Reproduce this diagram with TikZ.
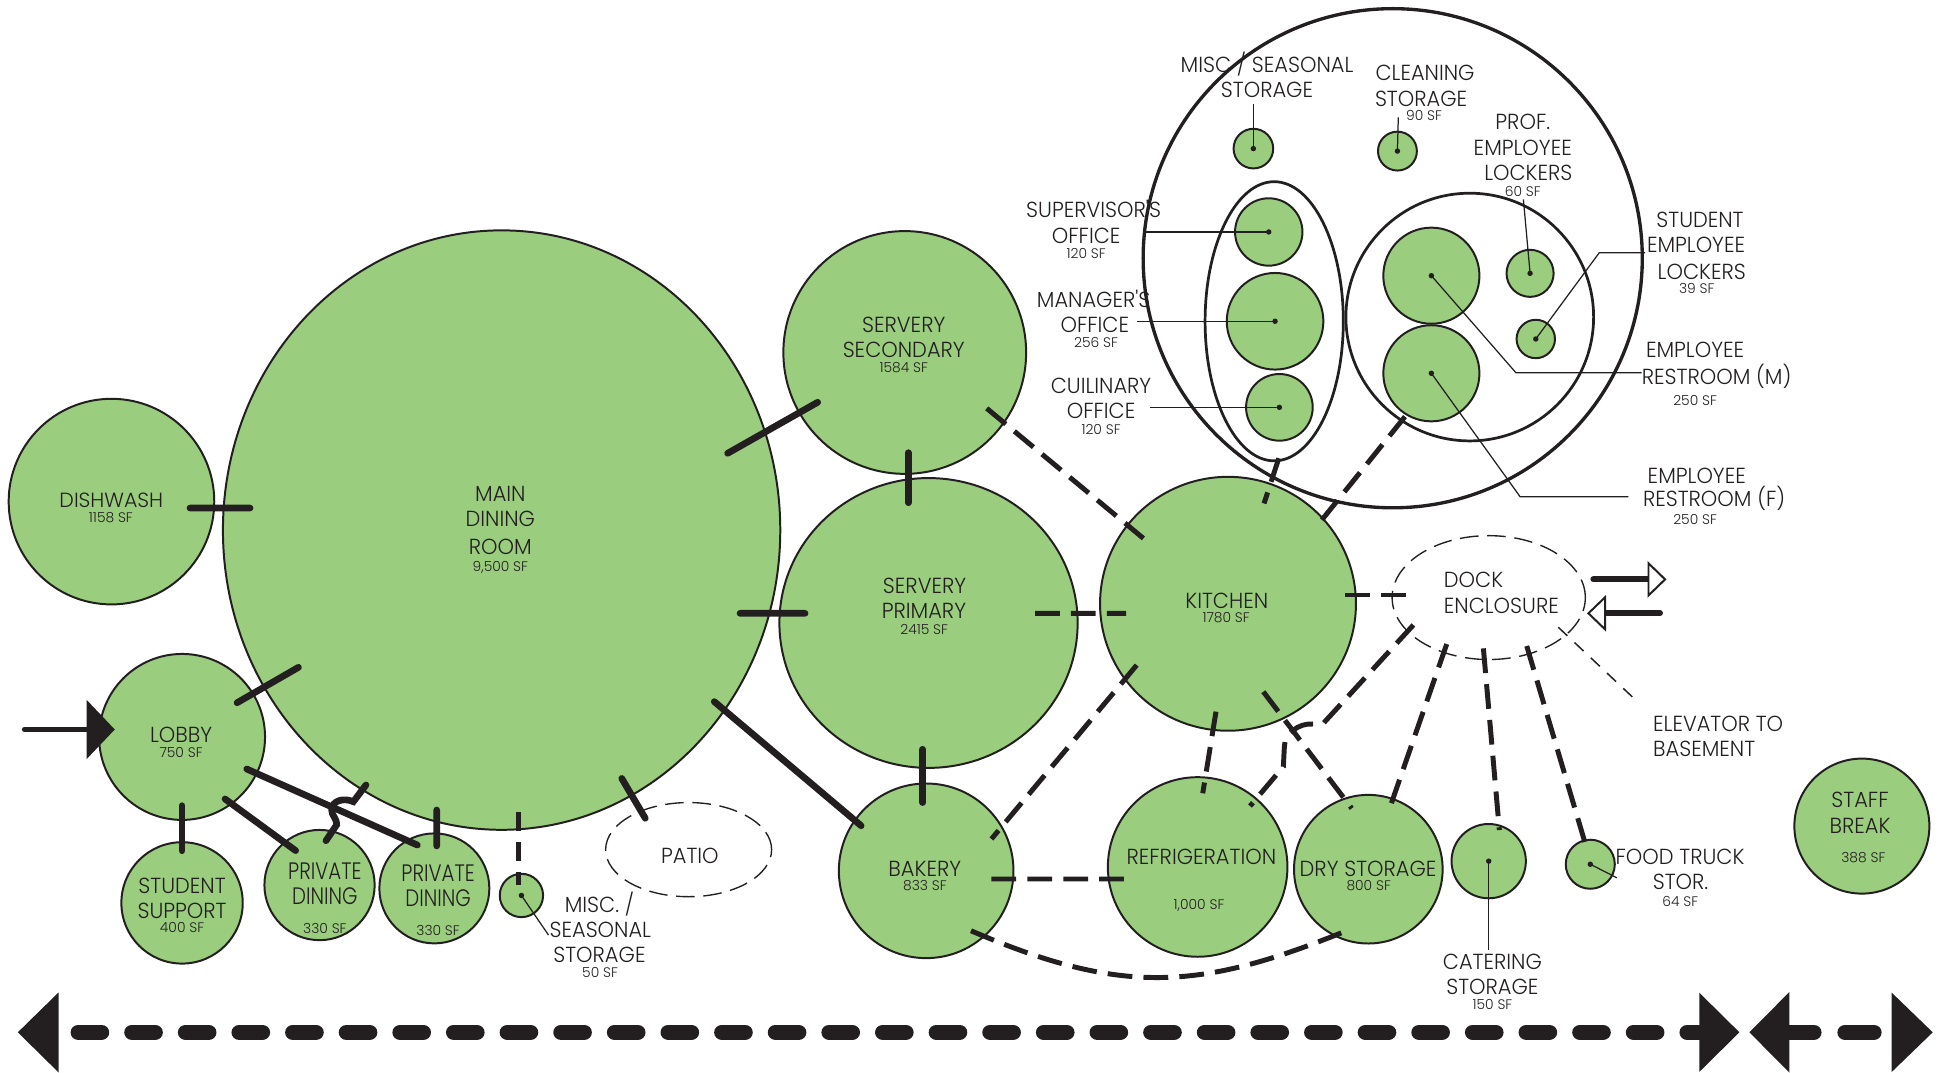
\documentclass[tikz,border=0pt]{standalone}
\usepackage{fontspec}
\usetikzlibrary{shapes.geometric,calc,arrows.meta}
\IfFontExistsTF{Poppins Light}{%
  \newfontfamily\lblfont{Poppins Light}[FakeStretch=0.96]
  \newfontfamily\numfont{Poppins Light}
  \newfontfamily\pdfont{Poppins Light}[FakeStretch=0.83]
}{%
  \newfontfamily\lblfont{Poppins}[FakeStretch=0.9]
  \newfontfamily\numfont{Poppins}
  \newfontfamily\pdfont{Poppins}[FakeStretch=0.78]
}
\definecolor{roomgreen}{RGB}{154,205,126}
\definecolor{ink}{RGB}{35,31,32}

\begin{document}
\begin{tikzpicture}[x=0.5pt,y=-0.5pt,
  room/.style 2 args={ellipse, draw=ink, line width=0.8pt, fill=roomgreen,
    inner sep=0pt, outer sep=0pt, minimum width=#1pt, minimum height=#2pt},
  zone/.style 2 args={ellipse, draw=ink, line width=1.1pt,
    inner sep=0pt, outer sep=0pt, minimum width=#1pt, minimum height=#2pt},
  openzone/.style 2 args={ellipse, draw=ink, line width=0.55pt, dash pattern=on 7.5pt off 3.5pt,
    inner sep=0pt, outer sep=0pt, minimum width=#1pt, minimum height=#2pt},
  adj/.style={draw=ink, line width=2.7pt, line cap=round},
  rel/.style={draw=ink, line width=2pt, dash pattern=on 10pt off 4.5pt},
  elev/.style={draw=ink, line width=0.6pt, dash pattern=on 5pt off 4pt},
  lead/.style={draw=ink, line width=0.5pt},
  entry/.style={draw=ink, line width=2.4pt, line cap=round,
    -{Triangle[length=11.35pt,width=23.3pt]}},
  thickln/.style={draw=ink, line width=2.4pt, line cap=round},
  opentip/.style={draw=ink, fill=white, line width=0.8pt, line join=miter},
  flow/.style={draw=ink, line width=6.25pt, line cap=round},
  rm/.style={anchor=base, inner sep=0pt, text=ink, font=\lblfont\fontsize{8.8}{10}\selectfont},
  rmw/.style={rm, anchor=base west},
  wide/.style={anchor=base, inner sep=0pt, text=ink, font=\numfont\fontsize{8.3}{10}\selectfont},
  pd/.style={anchor=base, inner sep=0pt, text=ink, font=\pdfont\fontsize{9.6}{11}\selectfont},
  ar/.style={anchor=base, inner sep=0pt, text=ink, font=\numfont\fontsize{5.6}{6.5}\selectfont}]

\useasboundingbox (0,0) rectangle (1568,866);
\fill[white] (0,0) rectangle (1568,866);

% ---------- rooms ----------
\node[room={83}{83}] (dish) at (90,405) {};
\node[room={225}{242}] (main) at (405,428) {};
\node[room={67}{67}] (lobby) at (147,595) {};
\node[room={49}{49}] (stud) at (147,729) {};
\node[room={44.5}{44.5}] (pd1) at (258,714.6) {};
\node[room={44.4}{44.4}] (pd2) at (350.7,717.3) {};
\node[room={17.5}{17.5}] (mstor) at (421,723) {};
\node[openzone={67}{38}] (patio) at (556,686) {};
\node[room={98}{98}] (sersec) at (730.5,284.6) {};
\node[room={120.4}{117}] (serprim) at (749.7,503) {};
\node[room={103.3}{102.5}] (kitchen) at (991.5,487.5) {};
\node[openzone={78}{50}] (dock) at (1202,482.5) {};
\node[room={70.5}{70.5}] (bakery) at (747.8,703.1) {};
\node[room={72.5}{72.5}] (refrig) at (967,700) {};
\node[room={60}{60}] (dry) at (1104.8,701.8) {};
\node[room={30}{30}] (cater) at (1202,695.3) {};
\node[room={19.8}{19.8}] (ftruck) at (1284,697.8) {};
\node[room={54.5}{54.5}] (staff) at (1503.3,667) {};

% ---------- staff support cluster ----------
\node[room={16}{16}] (seas) at (1012,120) {};
\node[room={15.7}{15.7}] (clean) at (1128.3,122) {};
\node[room={27.2}{27.2}] (superv) at (1024.4,187.3) {};
\node[room={39}{39}] (manager) at (1029.5,259.4) {};
\node[room={26.9}{26.9}] (culin) at (1033,328.9) {};
\node[room={38.8}{38.8}] (restm) at (1155.7,222.6) {};
\node[room={38.8}{38.8}] (restf) at (1155.7,301.4) {};
\node[room={19}{19}] (prof) at (1235.4,220.7) {};
\node[room={15.5}{15.5}] (studlk) at (1240,273.7) {};
\node[zone={55.8}{112.7}] (offices) at (1028.8,259.4) {};
\node[zone={100}{100}] (lockers) at (1186.7,256) {};
\node[zone={201.5}{201.5}, line width=1.35pt] (cluster) at (1124.5,208.5) {};

% ---------- direct adjacencies (ends placed relative to each room) ----------
\draw[adj] ($(dish)+(63.4,5.2)$) -- ($(main)+(-203.1,-17.8)$);
\draw[adj] ($(main)+(182.5,-62)$) -- ($(sersec)+(-70.3,40.2)$);
\draw[adj] ($(main)+(192.5,67.2)$) -- ($(serprim)+(-99.7,-7.8)$);
\draw[adj] ($(sersec)+(2.9,80.9)$) -- ($(serprim)+(-16.3,-97.1)$);
\draw[adj] ($(lobby)+(44.4,-27.6)$) -- ($(main)+(-164,110.8)$);
\draw[adj] ($(lobby)+(0,55.5)$) -- ($(stud)+(0,-42.1)$);
\draw[adj] ($(lobby)+(34.7,50.1)$) -- ($(pd1)+(-19.3,-27.8)$);
\draw[adj] ($(lobby)+(52.2,25.9)$) -- ($(pd2)+(-13.7,-35)$);
\coordinate (hopA) at (285.3,647.3);
\coordinate (hopA1) at (278,644);
\coordinate (hopA2) at (268,646);
\coordinate (hopB) at (267.8,654);
\coordinate (hopB1) at (267.8,659);
\coordinate (hopB2) at (271.8,660);
\coordinate (hopC) at (271.8,666);
\draw[adj] ($(main)+(-109.5,205.8)$) -- (hopA)
  .. controls (hopA1) and (hopA2) .. (hopB)
  .. controls (hopB1) and (hopB2) .. (hopC) -- ($(pd1)+(5.2,-35.8)$);
\draw[adj] ($(main)+(-52.4,226)$) -- ($(pd2)+(1.9,-34.3)$);
\draw[adj] ($(main)+(97,200.5)$) -- ($(patio)+(-35,-25.3)$);
\draw[adj] ($(main)+(171.7,138.5)$) -- ($(bakery)+(-52.5,-36.4)$);
\draw[adj] ($(serprim)+(-4.7,102)$) -- ($(bakery)+(-2.8,-55.1)$);

% ---------- secondary relations ----------
\draw[rel, dash pattern=on 7.5pt off 4.5pt] ($(main)+(14,228)$) -- ($(mstor)+(-2,-8.4)$);
\draw[rel] ($(sersec)+(66.2,45.1)$) -- ($(kitchen)+(-68.3,-52.8)$);
\draw[rel] ($(serprim)+(86,-7.8)$) -- ($(kitchen)+(-82.3,7.7)$);
\draw[rel] ($(kitchen)+(94.5,-7.1)$) -- ($(dock)+(-63.5,-2.1)$);
\draw[rel] ($(offices)+(3.7,110.6)$) -- ($(kitchen)+(29.1,-81)$);
\draw[rel] ($(lockers)+(-52.3,80.4)$) -- ($(kitchen)+(70.3,-60.9)$);
\draw[rel] ($(kitchen)+(-73.7,49.5)$) -- ($(bakery)+(52.7,-25.7)$);
\draw[rel] ($(bakery)+(52.7,6.6)$) -- ($(refrig)+(-57.8,9.7)$);
\draw[rel] ($(bakery)+(36.2,48.4)$) .. controls +(122,52.2) and +(-119.6,48.5) .. ($(dry)+(-17.6,49.7)$);
\draw[rel] ($(kitchen)+(-9.7,87.1)$) -- ($(refrig)+(4.1,-59.5)$);
\draw[rel] ($(kitchen)+(28.5,71)$) -- ($(dry)+(-13.4,-49.1)$);
\coordinate (hopD) at (1068.5,584);
\coordinate (hopE) at (1059.1,584.6);
\coordinate (hopE1) at (1049,584);
\coordinate (hopE2) at (1037,592);
\coordinate (hopF) at (1037,603);
\coordinate (hopG) at (1036.2,619);
\draw[rel] ($(dock)+(-60.8,22.1)$) -- (hopD) -- (hopE)
  .. controls (hopE1) and (hopE2) .. (hopF) -- (hopG) -- ($(refrig)+(42.3,-49.2)$);
\draw[rel] ($(dock)+(-33.9,37.5)$) -- ($(dry)+(18.1,-51.8)$);
\draw[rel] ($(dock)+(-4.3,41)$) -- ($(cater)+(8.6,-25.1)$);
\draw[rel] ($(dock)+(30.7,39.1)$) -- ($(ftruck)+(-2.9,-12.8)$);
\coordinate (elevend) at (1321.5,566);
\draw[elev] ($(dock)+(56.2,24)$) -- (elevend);

% ---------- leaders ----------
\coordinate (k-clean) at (1129,94.7);
\coordinate (k-restm) at (1224,301);
\coordinate (k-restf) at (1227.3,401);
\coordinate (k-prof) at (1230,161);
\coordinate (k-studlk) at (1291.3,204);
\coordinate (k-mstor) at (442.9,755);
\coordinate (k-ftruck) at (1305.4,708.7);
\draw[lead] (seas.center) -- ++(0,-36.4);
\draw[lead] (clean.center) -- (k-clean);
\draw[lead] (superv.center) -- ++(-100,0);
\draw[lead] (manager.center) -- ++(-111.5,0);
\draw[lead] (culin.center) -- ++(-104.5,0);
\draw[lead] (restm.center) -- (k-restm) -- ++(101.5,0);
\draw[lead] (restf.center) -- (k-restf) -- ++(87.5,0);
\draw[lead] (prof.center) -- (k-prof);
\draw[lead] (studlk.center) -- (k-studlk) -- ++(37,0);
\draw[lead] (mstor.center) -- (k-mstor);
\draw[lead] (cater.center) -- ++(0,72);
\draw[lead] (ftruck.center) -- (k-ftruck);
\foreach \n in {seas,clean,superv,manager,culin,restm,restf,prof,studlk,mstor,cater,ftruck}
  \fill[ink] (\n.center) circle[radius=2.2];

% ---------- arrows ----------
\coordinate (in) at (20,589);
\draw[entry] (in) -- ($(lobby)+(-54.3,-6)$);
\coordinate (dkout) at ($(dock.east)+(6.5,-14.7)$);
\coordinate (dkin) at ($(dock.east)+(60.3,12.7)$);
\draw[thickln] (dkout) -- ++(44.5,0);
\draw[opentip] ($(dkout)+(44.5,-13)$) -- ++(13.4,13) -- ++(-13.4,13) -- cycle;
\draw[thickln] (dkin) -- ++(-44.5,0);
\draw[opentip] ($(dkin)+(-44.3,-13)$) -- ++(-13.5,13) -- ++(13.5,13) -- cycle;

% ---------- circulation spine ----------
\fill[ink] (14.4,833.5) -- (47.4,801.2) -- (47.4,866) -- cycle;
\draw[flow, dash pattern=on 9.35pt off 12.3pt] (63.25,833.5) -- (1381,833.5);
\fill[ink] (1372,801.5) -- (1404.4,833.5) -- (1372,865.5) -- cycle;
\fill[ink] (1412.5,833.5) -- (1444.7,801) -- (1444.7,866) -- cycle;
\draw[flow] (1440,833.5) -- (1464.5,833.5);
\draw[flow] (1489.75,833.5) -- (1513,833.5);
\fill[ink] (1527.4,801.5) -- (1560.5,833.5) -- (1527.4,865.5) -- cycle;

% ---------- labels ----------
\node[wide] (t-dish1) at (89.9,409.6) {DISHWASH};
\node[ar] (t-dish2) at (89.5,421.7) {1158 SF};
\node[rm] (t-main1) at (404,405) {MAIN};
\node[rm] (t-main2) at (404,425.5) {DINING};
\node[rm] (t-main3) at (404,448) {ROOM};
\node[ar] (t-main4) at (404,461.5) {9,500 SF};
\node[rm] (t-lobby1) at (146.2,599.5) {LOBBY};
\node[ar] (t-lobby2) at (146.2,611.3) {750 SF};
\node[rm] (t-stud1) at (147,721.3) {STUDENT};
\node[rm] (t-stud2) at (147,741.6) {SUPPORT};
\node[ar] (t-stud3) at (147,753.3) {400 SF};
\node[pd] (t-pd11) at (262.3,710.5) {PRIVATE};
\node[pd] (t-pd12) at (262.3,730.7) {DINING};
\node[ar] (t-pd13) at (262.3,754) {330 SF};
\node[pd] (t-pd21) at (353.7,711.9) {PRIVATE};
\node[pd] (t-pd22) at (353.7,732) {DINING};
\node[ar] (t-pd23) at (353.7,755) {330 SF};
\node[rm] (t-mst1) at (484,736.4) {MISC. /};
\node[rm] (t-mst2) at (484.7,756.6) {SEASONAL};
\node[rm] (t-mst3) at (484,777.1) {STORAGE};
\node[ar] (t-mst4) at (484.5,789.3) {50 SF};
\node[rm] (t-patio) at (557,697) {PATIO};
\node[rm] (t-ss1) at (729.7,268.3) {SERVERY};
\node[rm] (t-ss2) at (729.7,288.9) {SECONDARY};
\node[ar] (t-ss3) at (729.7,301.1) {1584 SF};
\node[rm] (t-sp1) at (746.5,479.5) {SERVERY};
\node[rm] (t-sp2) at (746,499.3) {PRIMARY};
\node[ar] (t-sp3) at (746.2,512.4) {2415 SF};
\node[rm] (t-kit1) at (990.5,491.1) {KITCHEN};
\node[ar] (t-kit2) at (990,503) {1780 SF};
\node[rmw] (t-dock1) at (1165.4,474.2) {DOCK};
\node[rmw] (t-dock2) at (1165.4,495) {ENCLOSURE};
\node[rm] (t-bak1) at (746.7,707.6) {BAKERY};
\node[ar] (t-bak2) at (746.8,718.8) {833 SF};
\node[rm] (t-ref1) at (970,698) {REFRIGERATION};
\node[ar] (t-ref2) at (968.1,734.2) {1,000 SF};
\node[rm] (t-dry1) at (1104.6,707.8) {DRY STORAGE};
\node[ar] (t-dry2) at (1105.1,719.2) {800 SF};
\node[rm] (t-stf1) at (1501.8,651.6) {STAFF};
\node[rm] (t-stf2) at (1501.8,673.1) {BREAK};
\node[ar] (t-stf3) at (1504.5,696.1) {388 SF};
\node[rm] (t-ft1) at (1356.5,698) {FOOD TRUCK};
\node[rm] (t-ft2) at (1356.9,718.2) {STOR.};
\node[ar] (t-ft3) at (1356.6,731.7) {64 SF};
\node[rm] (t-cat1) at (1205,783) {CATERING};
\node[rm] (t-cat2) at (1205,803) {STORAGE};
\node[ar] (t-cat3) at (1205,814.7) {150 SF};
\node[rmw] (t-elv1) at (1334.4,590.7) {ELEVATOR TO};
\node[rmw] (t-elv2) at (1334.4,611) {BASEMENT};
\node[rm] (t-sea1) at (1023,58.2) {MISC / SEASONAL};
\node[rm] (t-sea2) at (1023,78.4) {STORAGE};
\node[rm] (t-cln1) at (1150.6,64.9) {CLEANING};
\node[rm] (t-cln2) at (1147.4,85.9) {STORAGE};
\node[ar] (t-cln3) at (1149.8,97.4) {90 SF};
\node[rm] (t-prf1) at (1229.5,104.7) {PROF.};
\node[rm] (t-prf2) at (1229.5,125.7) {EMPLOYEE};
\node[rm] (t-prf3) at (1234,145.7) {LOCKERS};
\node[ar] (t-prf4) at (1229.5,158.7) {60 SF};
\node[rm] (t-sup1) at (883,175.7) {SUPERVISOR'S};
\node[rm] (t-sup2) at (877,196.7) {OFFICE};
\node[ar] (t-sup3) at (877,208.7) {120 SF};
\node[rm] (t-man1) at (883,248.2) {MANAGER'S};
\node[rm] (t-man2) at (884,268.1) {OFFICE};
\node[ar] (t-man3) at (885,280.7) {256 SF};
\node[rm] (t-cul1) at (889,317.7) {CUILINARY};
\node[rm] (t-cul2) at (889,338.3) {OFFICE};
\node[ar] (t-cul3) at (889,350.7) {120 SF};
\node[rm] (t-sl1) at (1372.6,183.9) {STUDENT};
\node[rm] (t-sl2) at (1369.4,204.1) {EMPLOYEE};
\node[rm] (t-sl3) at (1374,225.3) {LOCKERS};
\node[ar] (t-sl4) at (1370,237.1) {39 SF};
\node[rm] (t-rm1) at (1368.6,288.9) {EMPLOYEE};
\node[rm] (t-rm2) at (1386,310.4) {RESTROOM (M)};
\node[ar] (t-rm3) at (1368.6,327.5) {250 SF};
\node[rm] (t-rf1) at (1370,390) {EMPLOYEE};
\node[rm] (t-rf2) at (1384,408.9) {RESTROOM (F)};
\node[ar] (t-rf3) at (1368.6,423.6) {250 SF};
\end{tikzpicture}
\end{document}
